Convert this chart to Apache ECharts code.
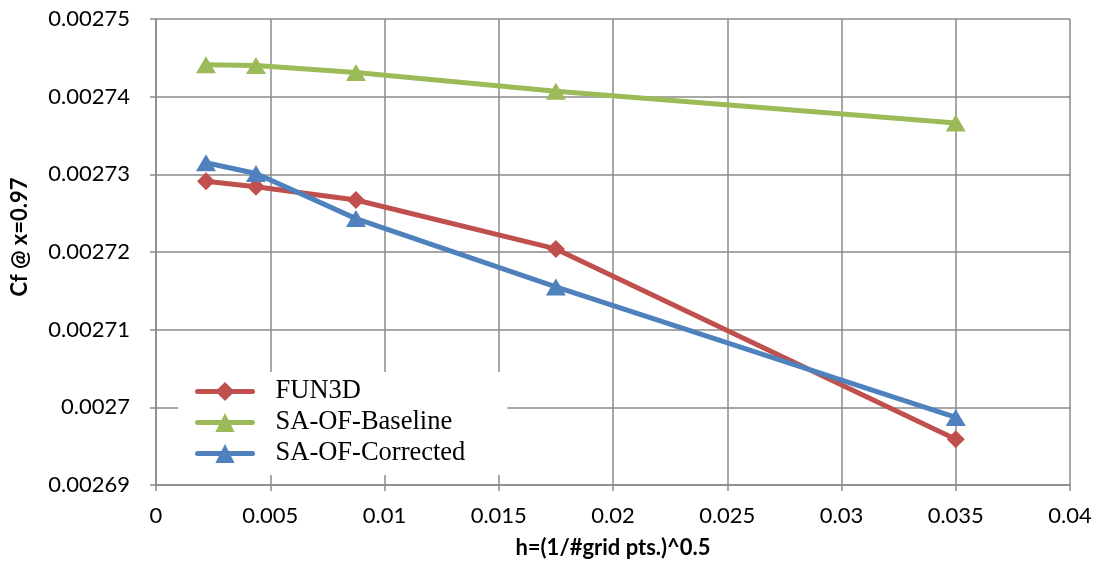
<!DOCTYPE html>
<html>
<head>
<meta charset="utf-8">
<script src="https://cdn.jsdelivr.net/npm/echarts@6/dist/echarts.min.js"></script>
<style>
  html, body { margin: 0; padding: 0; background: #fff; }
  #chart { width: 1099px; height: 563px; }
</style>
</head>
<body>
<div id="chart"></div>
<script>
// Grid spacing h for each mesh level
const hValues = [0.0021875, 0.004375, 0.00875, 0.0175, 0.035];

// Skin friction coefficient at x = 0.97
const fun3d       = [0.0027291, 0.0027284, 0.0027267, 0.0027204, 0.0026959];
const saBaseline  = [0.0027441, 0.0027440, 0.0027431, 0.0027407, 0.0027366];
const saCorrected = [0.0027315, 0.0027301, 0.0027243, 0.0027155, 0.0026987];

const seriesNames = ['FUN3D', 'SA-OF-Baseline', 'SA-OF-Corrected'];
const xTitle = 'h=(1/#grid pts.)^0.5';
const yTitle = 'Cf @ x=0.97';

const pair = (ys) => hValues.map((h, i) => [h, ys[i]]);

const gridColor = '#8a8a8a';
const labelFont = 'Lato, "Open Sans", sans-serif';

const chart = echarts.init(document.getElementById('chart'));

function lineSeries(name, ys, color, symbol, size) {
  return {
    name: name,
    type: 'line',
    data: pair(ys),
    symbol: symbol,
    symbolSize: size,
    showAllSymbol: true,
    lineStyle: { color: color, width: 5 },
    itemStyle: { color: color },
    z: 3
  };
}

chart.setOption({
  animation: false,
  backgroundColor: '#fff',
  grid: { left: 156, right: 29, top: 19, bottom: 78 },
  xAxis: {
    type: 'value',
    min: 0, max: 0.04, interval: 0.005,
    axisLine: { show: true, lineStyle: { color: gridColor, width: 1.5 } },
    axisTick: { show: true, length: 6, lineStyle: { color: gridColor, width: 1.5 } },
    splitLine: { show: true, lineStyle: { color: gridColor, width: 1.5 } },
    axisLabel: {
      margin: 20,
      color: '#000',
      fontFamily: labelFont,
      fontSize: 22,
      formatter: (v) => String(+v.toFixed(3))
    }
  },
  yAxis: {
    type: 'value',
    min: 0.00269, max: 0.00275, interval: 0.00001,
    axisLine: { show: true, lineStyle: { color: gridColor, width: 1.5 } },
    axisTick: { show: true, length: 6, lineStyle: { color: gridColor, width: 1.5 } },
    splitLine: { show: true, lineStyle: { color: gridColor, width: 1.5 } },
    axisLabel: {
      margin: 26,
      color: '#000',
      fontFamily: labelFont,
      fontSize: 22,
      formatter: (v) => String(+v.toFixed(5))
    }
  },
  legend: {
    orient: 'vertical',
    left: 178,
    top: 372,
    padding: [4, 42, 6, 17],
    itemGap: 0,
    itemWidth: 55,
    itemHeight: 24,
    backgroundColor: '#fff',
    data: seriesNames,
    lineStyle: { width: 5, cap: 'round' },
    textStyle: {
      fontFamily: '"Liberation Serif", "DejaVu Serif", serif',
      fontSize: 26.5,
      color: '#000',
      lineHeight: 31,
      padding: [0, 0, 0, 18]
    },
    z: 10
  },
  graphic: [
    {
      type: 'text',
      style: {
        text: xTitle,
        font: 'bold 22px Lato, "Open Sans", sans-serif',
        fill: '#000',
        textAlign: 'center',
        textVerticalAlign: 'middle'
      },
      position: [613, 548]
    },
    {
      type: 'text',
      rotation: Math.PI / 2,
      style: {
        text: yTitle,
        font: 'bold 22px Lato, "Open Sans", sans-serif',
        fill: '#000',
        textAlign: 'center',
        textVerticalAlign: 'middle'
      },
      position: [20, 237]
    }
  ],
  series: [
    lineSeries(seriesNames[0], fun3d, '#C0504D', 'diamond', [18, 18]),
    lineSeries(seriesNames[1], saBaseline, '#9BBB59', 'triangle', [20, 17]),
    lineSeries(seriesNames[2], saCorrected, '#4F81BD', 'triangle', [20, 17])
  ]
});
</script>
</body>
</html>
